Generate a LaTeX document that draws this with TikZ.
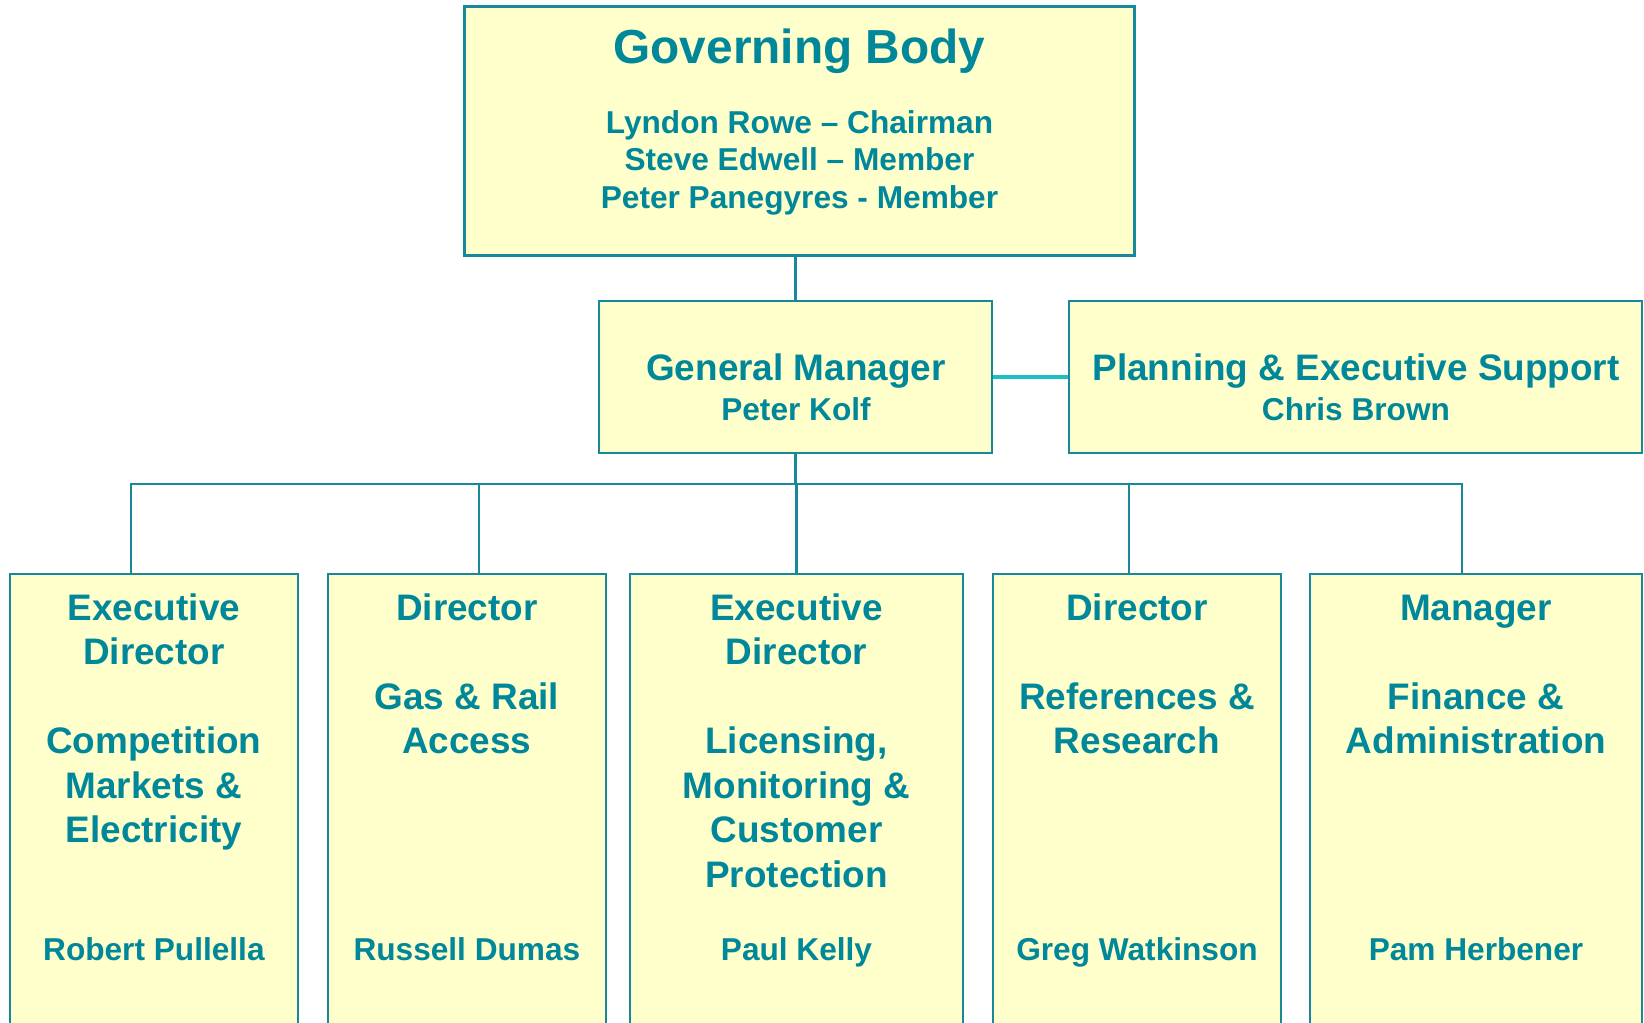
\documentclass[tikz,border=0pt]{standalone}
\usepackage{fontspec}
\setmainfont{Liberation Sans}
\usetikzlibrary{positioning}
\definecolor{unitfill}{HTML}{FFFFCC}
\definecolor{unitline}{HTML}{17899B}
\definecolor{unittext}{HTML}{00879A}
\definecolor{sideline}{HTML}{1BBFC6}
\newcommand{\orgfont}[2]{\fontsize{#1}{#2}\selectfont}
\tikzstyle{unit}=[rectangle,draw=unitline,fill=unitfill,line width=0.6pt,inner sep=0pt]
\tikzstyle{txt}=[text=unittext,align=center,inner sep=0pt]
\tikzstyle{link}=[draw=unitline,line width=0.6pt]
\tikzstyle{sidelink}=[draw=sideline,line width=0.9pt]

\begin{document}
\begin{tikzpicture}
 \useasboundingbox (0,0) rectangle (16.44,-10.23);

 % governing body
 \node[unit,minimum width=6.70cm,minimum height=2.49cm] (gov) at (7.995,-1.31) {};
 \node[txt,anchor=north,font=\bfseries\orgfont{9}{10.7}] (govtext) at (7.995,-0.285)
   {{\orgfont{13.6}{16}Governing Body}\\[9pt]Lyndon Rowe – Chairman\\Steve Edwell – Member\\Peter Panegyres - Member};

 % general manager and planning
 \node[unit,minimum width=3.93cm,minimum height=1.52cm] (gm) at (7.955,-3.77) {};
 \node[txt,anchor=north,font=\bfseries\orgfont{9}{11.1}] (gmtext) at (7.96,-3.526)
   {{\orgfont{10.5}{12.7}General Manager}\\[0.3pt]Peter Kolf};
 \node[unit,minimum width=5.734cm,minimum height=1.52cm] (plan) at (13.553,-3.77) {};
 \node[txt,anchor=north,font=\bfseries\orgfont{9}{11.1}] (plantext) at (13.56,-3.526)
   {{\orgfont{10.5}{12.7}Planning \& Executive Support}\\[0.3pt]Chris Brown};

 \draw[link] (gov.south -| gm.north) -- (gm.north);
 \draw[sidelink] (gm.east) -- (plan.west);
 \draw[link] (gm.south) -- ++(0,-0.30) coordinate (bus);

 % directorates
 \foreach \cx/\bw/\name/\dx/\unitname/\person in {
   {1.539/2.882/ecm/-0.229/{Executive\\Director\\ \\Competition\\Markets \&\\Electricity}/{Robert Pullella}},
   {4.669/2.782/gra/0.121/{Director\\ \\Gas \& Rail\\Access}/{Russell Dumas}},
   {7.965/3.33/lmc/0/{Executive\\Director\\ \\Licensing,\\Monitoring \&\\Customer\\Protection}/{Paul Kelly}},
   {11.37/2.88/rr/-0.08/{Director\\ \\References \&\\Research}/{Greg Watkinson}},
   {14.76/3.32/fa/-0.14/{Manager\\ \\Finance \&\\Administration}/{Pam Herbener}}}
 {
   \node[unit,anchor=north,minimum width=\bw cm,minimum height=4.8cm] (\name) at (\cx,-5.73) {};
   \node[txt,anchor=north,font=\bfseries\orgfont{10.5}{12.66}] (\name-title) at ([yshift=-1.96mm]\name.north) {\vphantom{Di}\unitname};
   \node[txt,anchor=base,font=\bfseries\orgfont{9}{11}] (\name-person) at ([yshift=-38.8mm]\name.north) {\person};
   \draw[link] (bus) -| ([xshift=\dx cm]\name.north);
 }
\end{tikzpicture}
\end{document}
